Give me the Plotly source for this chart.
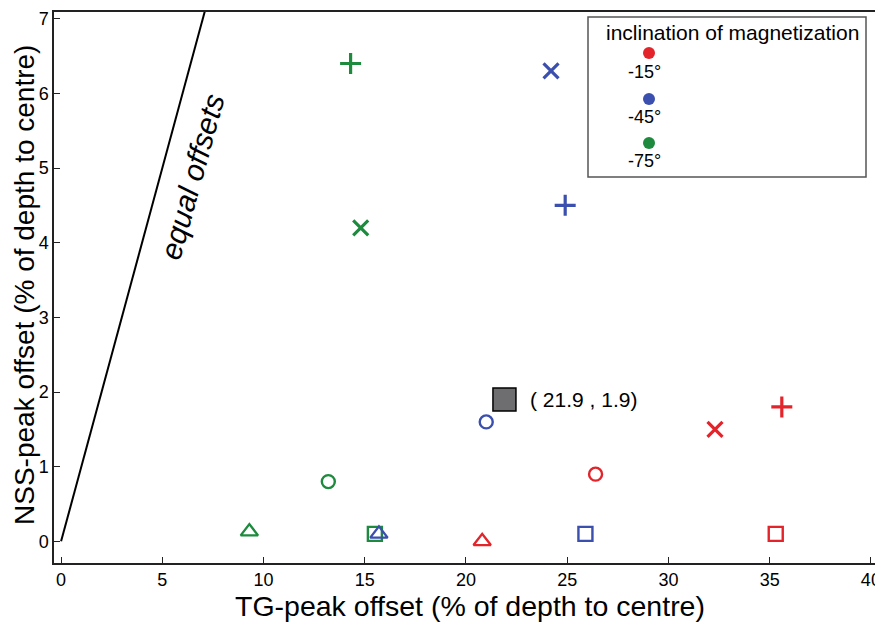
import plotly.graph_objects as go

# ---- data ----
inclinations = ["-15°", "-45°", "-75°"]
colors = {"-15°": "#e3242b", "-45°": "#3b4fae", "-75°": "#1d8a3e"}
symbols = ["cross", "x", "circle", "triangle", "square"]

tg_m15 = [35.6, 32.3, 26.4, 20.8, 35.3]
nss_m15 = [1.8, 1.5, 0.9, 0.0, 0.1]
tg_m45 = [24.9, 24.2, 21.0, 15.7, 25.9]
nss_m45 = [4.5, 6.3, 1.6, 0.1, 0.1]
tg_m75 = [14.3, 14.8, 13.2, 9.3, 15.5]
nss_m75 = [6.4, 4.2, 0.8, 0.13, 0.1]

mean_point_x = [21.9]
mean_point_y = [1.9]
mean_label = "( 21.9 , 1.9)"

equal_x = [0, 7.1]
equal_y = [0, 7.1]

x_ticks = [0, 5, 10, 15, 20, 25, 30, 35, 40]
y_ticks = [0, 1, 2, 3, 4, 5, 6, 7]

series = {"-15°": (tg_m15, nss_m15), "-45°": (tg_m45, nss_m45), "-75°": (tg_m75, nss_m75)}

plot_symbol = {"cross": "cross-thin-open", "x": "x-thin-open", "circle": "circle-open",
               "triangle": "triangle-up-open", "square": "square-open"}
plot_size = {"cross": 15, "x": 15, "circle": 13, "triangle": 15, "square": 14}

FONT = "Liberation Sans, Arial"

fig = go.Figure()

fig.add_trace(go.Scatter(x=equal_x, y=equal_y, mode="lines",
                         line=dict(color="black", width=2), showlegend=False, hoverinfo="skip"))

for inc in ["-75°", "-15°", "-45°"]:
    xs, ys = series[inc]
    for s, xv, yv in zip(symbols, xs, ys):
        fig.add_trace(go.Scatter(
            x=[xv], y=[yv], mode="markers", showlegend=False,
            marker=dict(symbol=plot_symbol[s], size=plot_size[s], color=colors[inc],
                        line=dict(color=colors[inc], width=3.2 if s in ("cross", "x") else 2.4))))

fig.add_trace(go.Scatter(x=mean_point_x, y=mean_point_y, mode="markers", showlegend=False,
                         marker=dict(symbol="square", size=23, color="#6e6e70",
                                     line=dict(color="black", width=1.5))))

fig.add_annotation(x=mean_point_x[0], y=mean_point_y[0], text=mean_label, showarrow=False,
                   xanchor="left", yanchor="middle", xshift=24,
                   font=dict(size=21, color="black", family=FONT))

fig.add_annotation(x=6.45, y=4.88, text="<i>equal offsets</i>", showarrow=False,
                   xanchor="center", yanchor="middle",
                   textangle=-74.6, font=dict(size=30, color="black", family=FONT))

# ---- helpers: page pixel -> paper coords (plot area: x 54..880, y 12..563) ----
TOP, BOTTOM = 12, 563
W, H = 826, BOTTOM - TOP
def px(x):
    return (x - 54) / W
def py(y):
    return (BOTTOM - y) / H

def paper_text(x, y, text, size, angle=0):
    fig.add_annotation(xref="paper", yref="paper", x=px(x), y=py(y), text=text, showarrow=False,
                       xanchor="center", yanchor="middle", textangle=angle,
                       font=dict(size=size, color="black", family=FONT))

# axis titles
paper_text(470, 606, "TG-peak offset (% of depth to centre)", 28.5)
paper_text(24, 285, "NSS-peak offset (% of depth to centre)", 28, angle=-90)

# ---- custom legend (box, title, dots stacked above labels) ----
fig.add_shape(type="rect", xref="paper", yref="paper", x0=px(588), x1=px(866), y0=py(177), y1=py(17),
              line=dict(color="#555555", width=1.5), fillcolor="white", layer="above")
paper_text(732, 33, "inclination of magnetization", 21)
dot_y = [53, 99, 143]
lab_y = [72, 117, 161]
for inc, dy, ly in zip(inclinations, dot_y, lab_y):
    fig.add_shape(type="circle", xref="paper", yref="paper", xsizemode="pixel", ysizemode="pixel",
                  xanchor=px(649), yanchor=py(dy), x0=-6, x1=6, y0=-6, y1=6,
                  fillcolor=colors[inc], line=dict(color=colors[inc], width=0), layer="above")
    paper_text(644, ly, inc, 18)

axis_common = dict(showline=True, linecolor="#222", linewidth=1.5, mirror=True, ticks="inside",
                   ticklen=6, tickcolor="#222", showgrid=False, zeroline=False, automargin=False,
                   ticklabeloverflow="allow",
                   tickfont=dict(size=18, color="black", family=FONT))

fig.update_xaxes(range=[-0.35, 40.45], tickvals=x_ticks, **axis_common)
fig.update_yaxes(range=[-0.29, 7.09], tickvals=y_ticks, **axis_common)

# page body has an 8px margin; size figure so the plot area lands where the reference has it
fig.update_layout(width=875, height=618, margin=dict(l=46, r=3, t=TOP - 8, b=626 - BOTTOM),
                  plot_bgcolor="white", paper_bgcolor="white", showlegend=False)

fig.write_html("out.html")
